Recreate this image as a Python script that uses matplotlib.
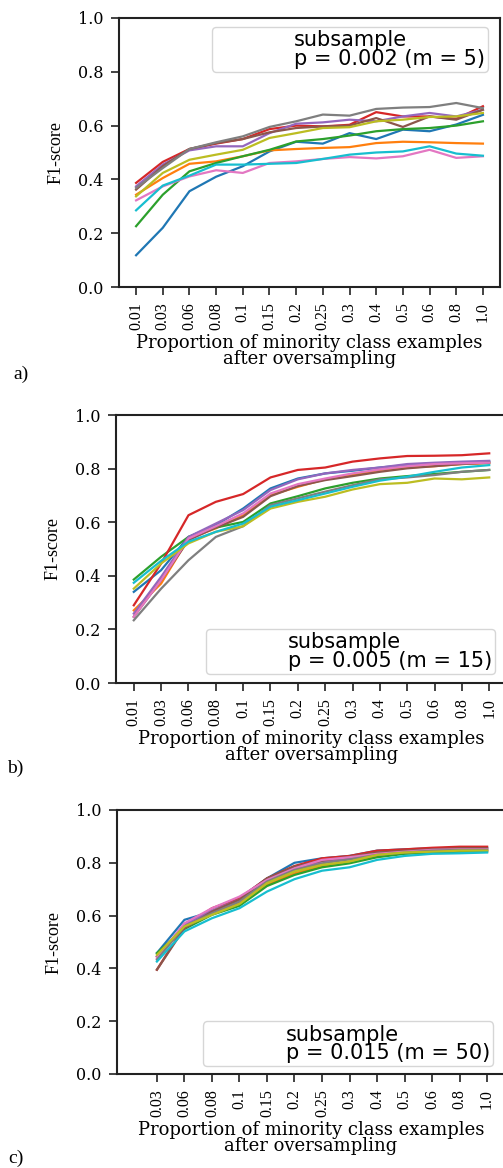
import matplotlib.pyplot as plt
from matplotlib.lines import Line2D

# x categories (proportion of minority class after oversampling)
props_ab = ['0.01', '0.03', '0.06', '0.08', '0.1', '0.15', '0.2', '0.25',
            '0.3', '0.4', '0.5', '0.6', '0.8', '1.0']
props_c = ['0.03', '0.06', '0.08', '0.1', '0.15', '0.2', '0.25',
           '0.3', '0.4', '0.5', '0.6', '0.8', '1.0']

# a) subsample p = 0.002 (m = 5)
a_blue = [0.118, 0.22, 0.356, 0.41, 0.449, 0.504, 0.54, 0.533, 0.572, 0.55, 0.585, 0.579, 0.604, 0.64]
a_orange = [0.343, 0.405, 0.458, 0.467, 0.486, 0.508, 0.513, 0.517, 0.52, 0.535, 0.54, 0.538, 0.535, 0.533]
a_green = [0.226, 0.343, 0.43, 0.461, 0.486, 0.51, 0.541, 0.55, 0.563, 0.579, 0.587, 0.591, 0.6, 0.616]
a_red = [0.387, 0.465, 0.513, 0.533, 0.55, 0.587, 0.6, 0.597, 0.603, 0.65, 0.634, 0.634, 0.625, 0.672]
a_purple = [0.374, 0.455, 0.508, 0.523, 0.523, 0.572, 0.607, 0.612, 0.622, 0.616, 0.634, 0.647, 0.634, 0.659]
a_brown = [0.362, 0.449, 0.513, 0.535, 0.55, 0.575, 0.591, 0.597, 0.6, 0.628, 0.595, 0.634, 0.622, 0.659]
a_pink = [0.322, 0.374, 0.411, 0.434, 0.424, 0.461, 0.467, 0.476, 0.483, 0.478, 0.486, 0.51, 0.48, 0.486]
a_gray = [0.368, 0.442, 0.513, 0.538, 0.56, 0.595, 0.616, 0.641, 0.637, 0.662, 0.667, 0.669, 0.684, 0.665]
a_olive = [0.337, 0.424, 0.473, 0.492, 0.51, 0.554, 0.572, 0.591, 0.594, 0.616, 0.622, 0.632, 0.634, 0.647]
a_cyan = [0.285, 0.377, 0.414, 0.455, 0.455, 0.458, 0.461, 0.476, 0.492, 0.5, 0.504, 0.523, 0.496, 0.488]

# b) subsample p = 0.005 (m = 15)
b_blue = [0.34, 0.421, 0.545, 0.589, 0.651, 0.726, 0.763, 0.782, 0.792, 0.804, 0.813, 0.82, 0.822, 0.826]
b_orange = [0.271, 0.371, 0.539, 0.577, 0.626, 0.701, 0.732, 0.76, 0.776, 0.795, 0.804, 0.809, 0.817, 0.82]
b_green = [0.386, 0.471, 0.545, 0.58, 0.601, 0.67, 0.697, 0.726, 0.747, 0.763, 0.772, 0.78, 0.788, 0.795]
b_red = [0.29, 0.446, 0.626, 0.676, 0.705, 0.767, 0.795, 0.804, 0.826, 0.838, 0.847, 0.848, 0.85, 0.857]
b_purple = [0.259, 0.396, 0.545, 0.595, 0.645, 0.72, 0.76, 0.782, 0.795, 0.804, 0.817, 0.822, 0.826, 0.829]
b_brown = [0.247, 0.384, 0.533, 0.58, 0.62, 0.697, 0.735, 0.757, 0.772, 0.788, 0.801, 0.809, 0.817, 0.822]
b_pink = [0.247, 0.384, 0.539, 0.585, 0.633, 0.707, 0.742, 0.763, 0.782, 0.797, 0.809, 0.817, 0.82, 0.822]
b_gray = [0.234, 0.352, 0.458, 0.545, 0.585, 0.664, 0.689, 0.714, 0.738, 0.76, 0.767, 0.776, 0.788, 0.795]
b_olive = [0.352, 0.446, 0.521, 0.564, 0.585, 0.651, 0.676, 0.695, 0.722, 0.742, 0.747, 0.763, 0.76, 0.767]
b_cyan = [0.374, 0.456, 0.527, 0.564, 0.595, 0.658, 0.682, 0.707, 0.732, 0.755, 0.77, 0.788, 0.804, 0.813]

# c) subsample p = 0.015 (m = 50)
c_blue = [0.458, 0.584, 0.615, 0.666, 0.741, 0.80, 0.817, 0.826, 0.846, 0.851, 0.855, 0.856, 0.857]
c_orange = [0.445, 0.556, 0.607, 0.647, 0.716, 0.76, 0.788, 0.805, 0.826, 0.836, 0.842, 0.846, 0.846]
c_green = [0.458, 0.549, 0.603, 0.637, 0.712, 0.754, 0.783, 0.798, 0.821, 0.834, 0.839, 0.842, 0.842]
c_red = [0.395, 0.559, 0.628, 0.666, 0.741, 0.788, 0.817, 0.826, 0.846, 0.851, 0.857, 0.861, 0.861]
c_purple = [0.445, 0.565, 0.619, 0.66, 0.735, 0.776, 0.805, 0.817, 0.834, 0.842, 0.846, 0.849, 0.849]
c_brown = [0.395, 0.552, 0.615, 0.66, 0.741, 0.786, 0.808, 0.823, 0.839, 0.846, 0.851, 0.855, 0.855]
c_pink = [0.439, 0.571, 0.628, 0.672, 0.735, 0.779, 0.811, 0.821, 0.834, 0.842, 0.849, 0.851, 0.851]
c_gray = [0.433, 0.559, 0.609, 0.653, 0.729, 0.773, 0.798, 0.813, 0.83, 0.839, 0.846, 0.849, 0.849]
c_olive = [0.451, 0.559, 0.603, 0.644, 0.723, 0.767, 0.792, 0.805, 0.83, 0.839, 0.842, 0.846, 0.846]
c_cyan = [0.426, 0.54, 0.59, 0.628, 0.691, 0.738, 0.77, 0.783, 0.811, 0.826, 0.834, 0.836, 0.839]

legend_a = 'subsample\np = 0.002 (m = 5)'
legend_b = 'subsample\np = 0.005 (m = 15)'
legend_c = 'subsample\np = 0.015 (m = 50)'

colors = ['tab:blue', 'tab:orange', 'tab:green', 'tab:red', 'tab:purple',
          'tab:brown', 'tab:pink', 'tab:gray', 'tab:olive', 'tab:cyan']

W, H = 503, 1168
fig = plt.figure(figsize=(W / 100, H / 100), dpi=100)


def px_axes(left, top, right, bottom):
    return fig.add_axes([left / W, 1 - bottom / H, (right - left) / W, (bottom - top) / H])


def draw_panel(ax, cats, series, xlim, legend_text, legend_loc, anchor):
    x = list(range(len(cats)))
    for s, c in zip(series, colors):
        ax.plot(x, s, color=c, lw=1.6)
    ax.set_xlim(*xlim)
    ax.set_ylim(0, 1)
    ax.set_xticks(x)
    ax.set_xticklabels(cats, rotation=90, family='Liberation Serif', fontsize=11.5)
    ax.set_yticks([0, 0.2, 0.4, 0.6, 0.8, 1.0])
    ax.set_yticklabels(['0.0', '0.2', '0.4', '0.6', '0.8', '1.0'],
                       family='DejaVu Serif', fontsize=11.5)
    ax.tick_params(length=6, width=1.2, color='#222222', pad=5)
    for sp in ax.spines.values():
        sp.set_linewidth(1.5)
        sp.set_color('#222222')
    ax.set_xlabel('Proportion of minority class examples\nafter oversampling',
                  family='DejaVu Serif', fontsize=13, linespacing=0.85, labelpad=3)
    ax.set_ylabel('F1-score', family='Liberation Serif', fontsize=13, labelpad=10)
    h = Line2D([], [], color='none')
    leg = ax.legend([h], [legend_text], loc=legend_loc, bbox_to_anchor=anchor,
                    borderaxespad=0, prop={'family': 'DejaVu Sans', 'size': 15},
                    handlelength=3.0, borderpad=0.15, edgecolor='#cccccc', fancybox=True)
    for t in leg.get_texts():
        t.set_linespacing(0.9)


ax_a = px_axes(119, 18, 500, 287)
draw_panel(ax_a, props_ab,
           [a_blue, a_orange, a_green, a_red, a_purple, a_brown, a_pink, a_gray, a_olive, a_cyan],
           (-0.64, 13.64), legend_a, 'upper right', (0.9685, 0.9665))

ax_b = px_axes(116, 415, 507, 683)
draw_panel(ax_b, props_ab,
           [b_blue, b_orange, b_green, b_red, b_purple, b_brown, b_pink, b_gray, b_olive, b_cyan],
           (-0.65, 13.65), legend_b, 'lower right', (0.970, 0.034))

ax_c = px_axes(117, 810, 505, 1074)
draw_panel(ax_c, props_c,
           [c_blue, c_orange, c_green, c_red, c_purple, c_brown, c_pink, c_gray, c_olive, c_cyan],
           (-1.45, 12.65), legend_c, 'lower right', (0.969, 0.030))

for label, xp, yp in [('a)', 13, 374), ('b)', 7, 768), ('c)', 8, 1158)]:
    fig.text(xp / W, 1 - yp / H, label, family='Liberation Serif', fontsize=14, va='center')

fig.savefig('out.png', dpi=100)
